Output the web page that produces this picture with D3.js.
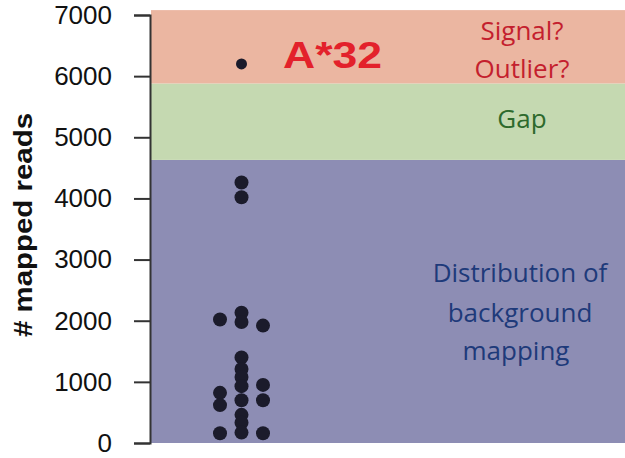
<!DOCTYPE html>
<html>
<head>
  <title>Mapped reads</title>
  <script src="https://d3js.org/d3.v7.min.js"></script>
  <style>
    body { margin: 0; background: #fff; }
    .tick text { font-family: "Liberation Sans", Arial, sans-serif; font-size: 26px; fill: #111; }
    .tick line, .domain { stroke: #333; stroke-width: 2px; }
    .note { font-family: "Open Sans", "Noto Sans", sans-serif; font-size: 26px; text-anchor: middle; }
  </style>
</head>
<body>
  <svg width="625" height="458"></svg>

  <script>
    // y-axis ticks
    const yTicks = [0, 1000, 2000, 3000, 4000, 5000, 6000, 7000];

    // shaded zones (lower, upper in reads)
    const zoneNames = ['background', 'gap', 'signal'];
    const zoneLow = [0, 4630, 5880];
    const zoneHigh = [4630, 5880, 7080];
    const zoneColors = ['#8d8db4', '#c5d9b1', '#ebb6a1'];

    // dot columns: horizontal offset (-1 left, 0 centre, 1 right) and read counts
    const leftReads = [2020, 820, 620, 160];
    const centreReads = [6200, 4260, 4020, 2130, 1980, 1400, 1210, 1080, 930, 700, 460, 330, 170];
    const rightReads = [1920, 950, 700, 160];

    const svg = d3.select('svg');
    const x0 = 151, x1 = 625;

    const y = d3.scaleLinear().domain([0, 7000]).range([443, 15]);
    const x = d3.scaleLinear().domain([-1, 1]).range([220, 263]);

    // zones
    svg.append('g').selectAll('rect')
      .data(zoneNames)
      .enter().append('rect')
      .attr('x', x0)
      .attr('width', x1 - x0)
      .attr('y', (d, i) => y(zoneHigh[i]))
      .attr('height', (d, i) => y(zoneLow[i]) - y(zoneHigh[i]))
      .attr('fill', (d, i) => zoneColors[i]);

    // axis
    svg.append('g')
      .attr('transform', `translate(${x0 - 1},0)`)
      .call(d3.axisLeft(y).tickValues(yTicks).tickFormat(d3.format('d'))
        .tickSize(16).tickSizeOuter(16).tickPadding(22));

    svg.append('text')
      .attr('transform', 'translate(32,225) rotate(-90)')
      .attr('text-anchor', 'middle')
      .attr('textLength', 224)
      .attr('lengthAdjust', 'spacingAndGlyphs')
      .style('font-family', '"Liberation Sans", Arial, sans-serif')
      .style('font-size', '25px')
      .style('font-weight', 'bold')
      .attr('fill', '#111')
      .text('# mapped reads');

    // dots
    const dots = [];
    leftReads.forEach(v => dots.push({ off: -1, v }));
    centreReads.forEach(v => dots.push({ off: 0, v }));
    rightReads.forEach(v => dots.push({ off: 1, v }));

    svg.append('g').selectAll('circle')
      .data(dots)
      .enter().append('circle')
      .attr('cx', d => x(d.off))
      .attr('cy', d => y(d.v))
      .attr('r', d => d.v > 6000 ? 5.5 : 7)
      .attr('fill', '#1b1b2b');

    // annotations
    svg.append('text')
      .attr('x', 283).attr('y', 68)
      .attr('textLength', 99)
      .attr('lengthAdjust', 'spacingAndGlyphs')
      .style('font-family', '"Liberation Sans", Arial, sans-serif')
      .style('font-size', '36px')
      .style('font-weight', 'bold')
      .attr('fill', '#e3212b')
      .text('A*32');

    const notes = [
      { t: 'Signal?', x: 522, y: 40, c: '#c41f2e' },
      { t: 'Outlier?', x: 522, y: 78, c: '#c41f2e' },
      { t: 'Gap', x: 522, y: 128, c: '#2e6a2c' },
      { t: 'Distribution of', x: 520, y: 282, c: '#1e3a7a' },
      { t: 'background', x: 520, y: 322, c: '#1e3a7a' },
      { t: 'mapping', x: 516, y: 360, c: '#1e3a7a' }
    ];
    svg.append('g').selectAll('text')
      .data(notes)
      .enter().append('text')
      .attr('class', 'note')
      .attr('x', d => d.x)
      .attr('y', d => d.y)
      .attr('fill', d => d.c)
      .text(d => d.t);
  </script>
</body>
</html>
